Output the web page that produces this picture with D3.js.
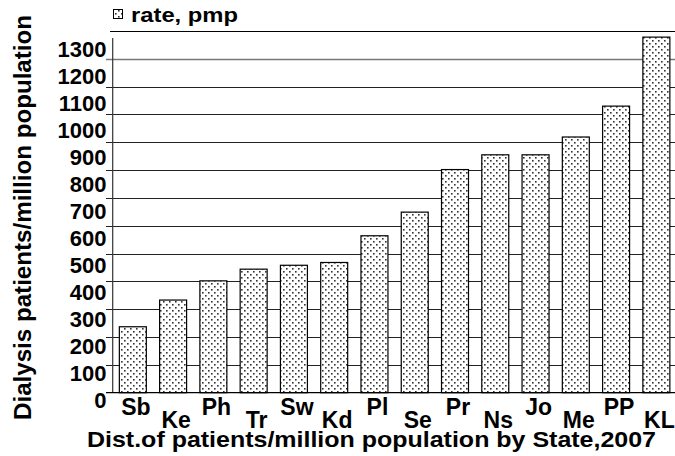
<!DOCTYPE html>
<html>
<head>
  <meta charset="utf-8">
  <title>Dialysis rate</title>
  <script src="https://cdnjs.cloudflare.com/ajax/libs/d3/7.8.5/d3.min.js"></script>
  <style>
    body { margin: 0; background: #fff; }
    text { font-family: "Liberation Sans", Arial, sans-serif; font-weight: bold; fill: #000; }
  </style>
</head>
<body>
  <script>
    var states = ["Sb", "Ke", "Ph", "Tr", "Sw", "Kd", "Pl", "Se", "Pr", "Ns", "Jo", "Me", "PP", "KL"];
    var rates = [237, 333, 402, 444, 458, 468, 564, 649, 802, 855, 855, 919, 1030, 1278];
    var yTicks = [0, 100, 200, 300, 400, 500, 600, 700, 800, 900, 1000, 1100, 1200, 1300];

    var svg = d3.select("body").append("svg")
      .attr("width", 675)
      .attr("height", 456);

    // dotted fill
    var pat = svg.append("defs").append("pattern")
      .attr("id", "dots")
      .attr("patternUnits", "userSpaceOnUse")
      .attr("width", 6).attr("height", 6);
    pat.append("rect").attr("width", 6).attr("height", 6).attr("fill", "#fff");
    pat.append("rect").attr("x", 1).attr("y", 1).attr("width", 1.6).attr("height", 1.6).attr("fill", "#333");
    pat.append("rect").attr("x", 4).attr("y", 4).attr("width", 1.6).attr("height", 1.6).attr("fill", "#333");

    var x = d3.scaleBand().domain(states).range([112.7, 676.5])
      .paddingInner(0.33).paddingOuter(0.165);
    var y = d3.scaleLinear().domain([0, 1300]).range([392.7, 31]);
    // tick labels sit on a slightly squeezed ladder
    var yLab = d3.scaleLinear().domain([0, 1300]).range([400, 49.5]);

    // gridlines
    svg.append("g").selectAll("line").data(yTicks.slice(1, -1)).enter().append("line")
      .attr("x1", 106).attr("x2", 675)
      .attr("y1", function (d) { return Math.round(y(d)) + 0.5; })
      .attr("y2", function (d) { return Math.round(y(d)) + 0.5; })
      .attr("stroke", function (d) { return d == 1200 ? "#777" : "#222"; })
      .attr("stroke-width", function (d) { return d == 1200 ? 1.6 : 1; });

    // top border
    svg.append("line").attr("x1", 110).attr("x2", 675)
      .attr("y1", Math.round(y(1300)) + 0.5).attr("y2", Math.round(y(1300)) + 0.5)
      .attr("stroke", "#000");

    // bars
    svg.append("g").selectAll("rect").data(rates).enter().append("rect")
      .attr("x", function (d, i) { return x(states[i]); })
      .attr("y", function (d) { return y(d); })
      .attr("width", x.bandwidth())
      .attr("height", function (d) { return y(0) - y(d); })
      .attr("fill", "url(#dots)")
      .attr("stroke", "#000")
      .attr("stroke-width", 1.2);

    // axis lines
    svg.append("line").attr("x1", 112.7).attr("x2", 112.7).attr("y1", 38).attr("y2", y(0))
      .attr("stroke", "#333").attr("stroke-width", 1.2);
    svg.append("line").attr("x1", 106).attr("x2", 675).attr("y1", y(0)).attr("y2", y(0))
      .attr("stroke", "#000").attr("stroke-width", 1.3);

    // y tick labels
    svg.append("g").selectAll("text").data(yTicks).enter().append("text")
      .attr("x", 106.5)
      .attr("y", function (d) { return yLab(d); })
      .attr("dy", "0.36em")
      .attr("text-anchor", "end")
      .style("font-size", "22px")
      .text(function (d) { return d; });

    // category labels, staggered
    svg.append("g").selectAll("text").data(states).enter().append("text")
      .attr("x", function (d) { return x(d) + x.bandwidth() / 2 + 3; })
      .attr("y", function (d, i) { return i % 2 == 0 ? 415 : 428; })
      .attr("text-anchor", "middle")
      .style("font-size", "23px")
      .text(function (d) { return d; });

    // titles
    svg.append("text")
      .attr("x", 87).attr("y", 447)
      .attr("textLength", 569)
      .attr("lengthAdjust", "spacingAndGlyphs")
      .style("font-size", "22px")
      .text("Dist.of patients/million population by State,2007");

    svg.append("text")
      .attr("transform", "translate(31,420) rotate(-90)")
      .attr("textLength", 405)
      .attr("lengthAdjust", "spacingAndGlyphs")
      .style("font-size", "23px")
      .text("Dialysis patients/million population");

    // legend
    svg.append("rect").attr("x", 113.5).attr("y", 9.5).attr("width", 9).attr("height", 9)
      .attr("fill", "url(#dots)").attr("stroke", "#000");
    svg.append("text").attr("x", 131).attr("y", 22)
      .attr("textLength", 107)
      .attr("lengthAdjust", "spacingAndGlyphs")
      .style("font-size", "21px")
      .text("rate, pmp");
  </script>
</body>
</html>
